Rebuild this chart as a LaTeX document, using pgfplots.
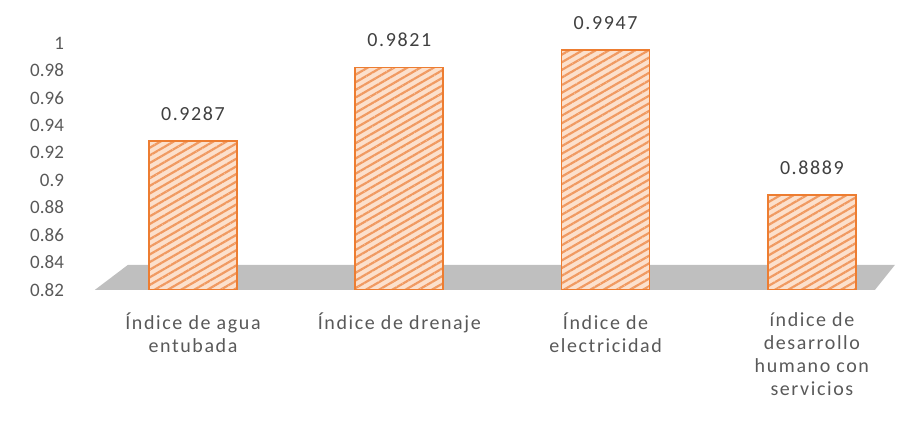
\documentclass[border=0pt]{standalone}
\usepackage{fontspec}
\setmainfont{Carlito}
\newfontfamily\spacedfont[LetterSpace=8]{Carlito}
\usepackage{pgfplots}
\pgfplotsset{compat=1.18}
\usetikzlibrary{patterns.meta}
\definecolor{barfill}{HTML}{FCE0CC}
\definecolor{hatch}{HTML}{F09A62}
\definecolor{baredge}{HTML}{ED7D31}
\definecolor{floorgray}{HTML}{BFBFBF}
\definecolor{ticktext}{HTML}{595959}
\definecolor{labeltext}{HTML}{404040}
\begin{document}
\begin{tikzpicture}
\begin{axis}[
  scale only axis, width=400pt, height=144pt,
  xmin=-0.475, xmax=3.403, ymin=0.82, ymax=1.03,
  axis line style={draw=none}, tick style={draw=none},
  ytick={0.82,0.84,0.86,0.88,0.9,0.92,0.94,0.96,0.98,1},
  xtick={0,1,2,3},
  xticklabels={{Índice de agua\\entubada},{Índice de drenaje},{Índice de\\electricidad},{índice de\\desarrollo\\humano con\\servicios}},
  xticklabel style={align=center, font=\spacedfont\fontsize{10}{11.5}\selectfont, text=ticktext, yshift=-8pt},
  yticklabel style={font=\fontsize{9.5}{11}\selectfont, text=ticktext, xshift=-12pt},
  /pgf/number format/assume math mode=true,
]
\fill[floorgray] (axis cs:-0.475,0.82) -- (axis cs:-0.315,0.8382) -- (axis cs:3.403,0.8382) -- (axis cs:3.306,0.82) -- cycle;
\addplot[ybar, bar shift=0pt, bar width=44pt, draw=none, fill=barfill]
  coordinates {(0,0.9287) (1,0.9821) (2,0.9947) (3,0.8889)};
\addplot[ybar, bar shift=0pt, bar width=44pt, draw=baredge, line width=0.8pt,
  pattern={Lines[angle=30,distance=3.3pt,line width=1.1pt]}, pattern color=hatch,
  nodes near coords,
  every node near coord/.append style={font=\spacedfont\fontsize{10}{11}\selectfont, text=labeltext, yshift=6.5pt,
    /pgf/number format/fixed, /pgf/number format/precision=4, /pgf/number format/assume math mode=true}]
  coordinates {(0,0.9287) (1,0.9821) (2,0.9947) (3,0.8889)};
\coordinate (bbA) at (axis cs:-0.9355,0.7216);
\coordinate (bbB) at (axis cs:3.4465,1.0313);
\end{axis}
\path (bbA) rectangle (bbB);
\end{tikzpicture}
\end{document}
